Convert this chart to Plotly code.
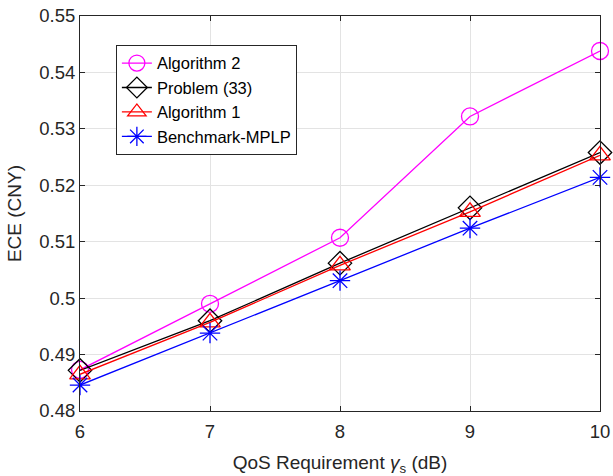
import plotly.graph_objects as go

qos = [6, 7, 8, 9, 10]
alg2 = [0.4873, 0.4990, 0.5107, 0.5322, 0.5438]
prob33 = [0.4872, 0.4960, 0.5062, 0.5160, 0.5258]
alg1 = [0.4865, 0.4957, 0.5058, 0.5153, 0.5253]
bench = [0.4846, 0.4938, 0.5031, 0.5124, 0.5214]

names = ["Algorithm 2", "Problem (33)", "Algorithm 1", "Benchmark-MPLP"]
colors = ["#ff00ff", "#000000", "#ff0000", "#0000ff"]
symbols = ["circle-open", "diamond-open", "triangle-up-open", "asterisk-open"]
sizes = [17, 18, 18, 17]

xticks = [6, 7, 8, 9, 10]
yticks = [0.48, 0.49, 0.50, 0.51, 0.52, 0.53, 0.54, 0.55]
yticktext = ["0.48", "0.49", "0.5", "0.51", "0.52", "0.53", "0.54", "0.55"]

fig = go.Figure()
for name, ys, c, s, sz in zip(names, [alg2, prob33, alg1, bench], colors, symbols, sizes):
    fig.add_trace(go.Scatter(
        x=qos, y=ys, name=name, mode="lines+markers",
        line=dict(color=c, width=1.3),
        marker=dict(symbol=s, size=sz, color=c, line=dict(color=c, width=1.3)),
        cliponaxis=False,
    ))

FONT = "Liberation Sans, Arial"
axis_common = dict(
    showline=True, linecolor="#262626", linewidth=1, mirror="ticks",
    ticks="inside", ticklen=5, tickcolor="#262626",
    showgrid=True, gridcolor="#e3e3e3", gridwidth=1, zeroline=False,
    tickfont=dict(family=FONT, size=18.5, color="#262626"),
    automargin=False, ticklabeloverflow="allow",
)

fig.update_xaxes(range=[6, 10], tickvals=xticks, ticktext=[str(v) for v in xticks],
                 ticklabelstandoff=4,
                 title=dict(text="QoS Requirement <i>γ</i><sub>s</sub> (dB)",
                            font=dict(family=FONT, size=19, color="#262626"),
                            standoff=14),
                 **axis_common)
fig.update_yaxes(range=[0.48, 0.55], tickvals=yticks, ticktext=yticktext,
                 title=dict(text="ECE (CNY)",
                            font=dict(family=FONT, size=19, color="#262626"),
                            standoff=12),
                 **axis_common)

fig.update_layout(
    width=613, height=476,
    margin=dict(l=80, r=13, t=16, b=65),
    paper_bgcolor="white", plot_bgcolor="white",
    showlegend=True,
    legend=dict(x=0.069, y=0.927, xanchor="left", yanchor="top",
                bgcolor="white", bordercolor="#262626", borderwidth=1,
                font=dict(family=FONT, size=16.5, color="#000000"),
                itemsizing="trace", tracegroupgap=0),
)

fig.write_html("out.html", config={"displayModeBar": False},
               post_script="document.body.style.margin='0px';document.body.style.overflow='hidden';")
